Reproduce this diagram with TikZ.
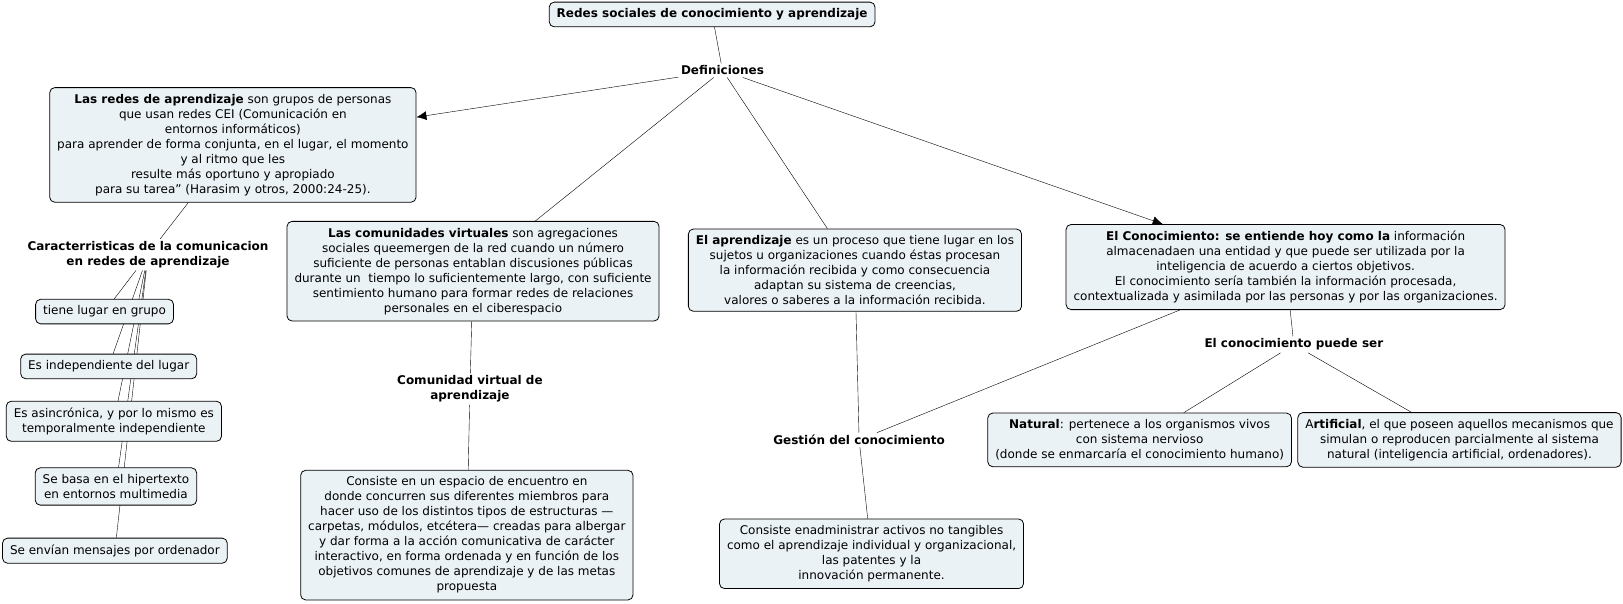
\documentclass[tikz,border=0pt]{standalone}
\usepackage{fontspec}
\setmainfont{DejaVu Sans}
\usepackage{tikz}
\usetikzlibrary{arrows.meta}
\usetikzlibrary{backgrounds}

\begin{document}
\begin{tikzpicture}[x=1.035pt,y=-1.035pt,line width=0.8pt,
    font=\fontsize{12pt}{15pt}\selectfont,
    >={Latex[length=10pt,width=9pt]},
    box/.style={draw,rounded corners=5pt,fill=boxfill,align=center,inner xsep=7.5pt,inner ysep=6.5pt},
    lbl/.style={align=center,font=\fontsize{12pt}{15pt}\selectfont\bfseries,inner sep=2pt}]
  \definecolor{boxfill}{HTML}{EBF2F5}
  \useasboundingbox (0,0) rectangle (1568,582.6);


    \node[box,font=\fontsize{12pt}{15pt}\selectfont\bfseries] (title) at (688, 14) {Redes sociales de conocimiento y aprendizaje};
    \node[lbl]   (def) at (698, 68)   {Definiciones};

    \node[box]   (redes) at (225, 140) {\textbf{Las redes de aprendizaje} son grupos de personas\\ que usan redes CEI (Comunicación en\\ entornos informáticos)\\ para aprender de forma conjunta, en el lugar, el momento\\ y al ritmo que les\\ resulte más oportuno y apropiado\\ para su tarea” (Harasim y otros, 2000:24-25).};
    \node[lbl]   (car) at (143, 246)   {Caracterristicas de la comunicacion\\ en redes de aprendizaje};
    \node[box]   (grupo) at (101, 301) {tiene lugar en grupo};
    \node[box]   (lugar) at (105, 354) {Es independiente del lugar};
    \node[box]   (asinc) at (110, 407) {Es asincrónica, y por lo mismo es\\ temporalmente independiente};
    \node[box]   (hiper) at (112, 470) {Se basa en el hipertexto\\ en entornos multimedia};
    \node[box]   (mens) at (111, 532)  {Se envían mensajes por ordenador};

    \node[box]   (comu) at (457, 262)  {\textbf{Las comunidades virtuales} son agregaciones\\ sociales queemergen de la red cuando un número\\ suficiente de personas entablan discusiones públicas\\ durante un\ \ tiempo lo suficientemente largo, con suficiente\\ sentimiento humano para formar redes de relaciones\\ personales en el ciberespacio};
    \node[lbl]   (cva) at (454, 376)   {Comunidad virtual de\\ aprendizaje};
    \node[box]   (espacio) at (451, 517) {Consiste en un espacio de encuentro en\\ donde concurren sus diferentes miembros para\\ hacer uso de los distintos tipos de estructuras —\\ carpetas, módulos, etcétera— creadas para albergar\\ y dar forma a la acción comunicativa de carácter\\ interactivo, en forma ordenada y en función de los\\ objetivos comunes de aprendizaje y de las metas\\ propuesta};

    \node[box]   (apr) at (826, 261)   {\textbf{El aprendizaje} es un proceso que tiene lugar en los\\ sujetos u organizaciones cuando éstas procesan\\ la información recibida y como consecuencia\\ adaptan su sistema de creencias,\\ valores o saberes a la información recibida.};
    \node[lbl]   (gest) at (830, 425)  {Gestión del conocimiento};
    \node[box]   (admin) at (842, 535) {Consiste enadministrar activos no tangibles\\ como el aprendizaje individual y organizacional,\\ las patentes y la\\ innovación permanente.};

    \node[box]   (cono) at (1242, 258) {\textbf{El Conocimiento: se entiende hoy como la} información\\ almacenadaen una entidad y que puede ser utilizada por la\\ inteligencia de acuerdo a ciertos objetivos.\\ El conocimiento sería también la información procesada,\\ contextualizada y asimilada por las personas y por las organizaciones.};
    \node[lbl]   (puede) at (1250, 333) {El conocimiento puede ser};
    \node[box]   (nat) at (1101, 425)  {\textbf{Natural}: pertenece a los organismos vivos\\ con sistema nervioso\\ (donde se enmarcaría el conocimiento humano)};
    \node[box]   (art) at (1410, 425)  {A\textbf{rtificial}, el que poseen aquellos mecanismos que\\ simulan o reproducen parcialmente al sistema\\ natural (inteligencia artificial, ordenadores).};


  \begin{scope}[on background layer]
    \draw (title) edge (def);
    \draw (def) edge[->] (redes);
    \draw (def) edge (comu);
    \draw (def) edge (apr);
    \draw (def) edge[->] (cono);
    \draw (redes) edge (car);
    \draw (car) edge (grupo);
    \draw (car) edge (lugar);
    \draw (car) edge (asinc);
    \draw (car) edge (hiper);
    \draw (car) edge (mens);
    \draw (comu) edge (cva);
    \draw (cva) edge (espacio);
    \draw (apr) edge (gest);
    \draw (gest) edge (admin);
    \draw (cono) edge (gest);
    \draw (cono) edge (puede);
    \draw (puede) edge (nat);
    \draw (puede) edge (art);
  \end{scope}
  \end{tikzpicture}
\end{document}
